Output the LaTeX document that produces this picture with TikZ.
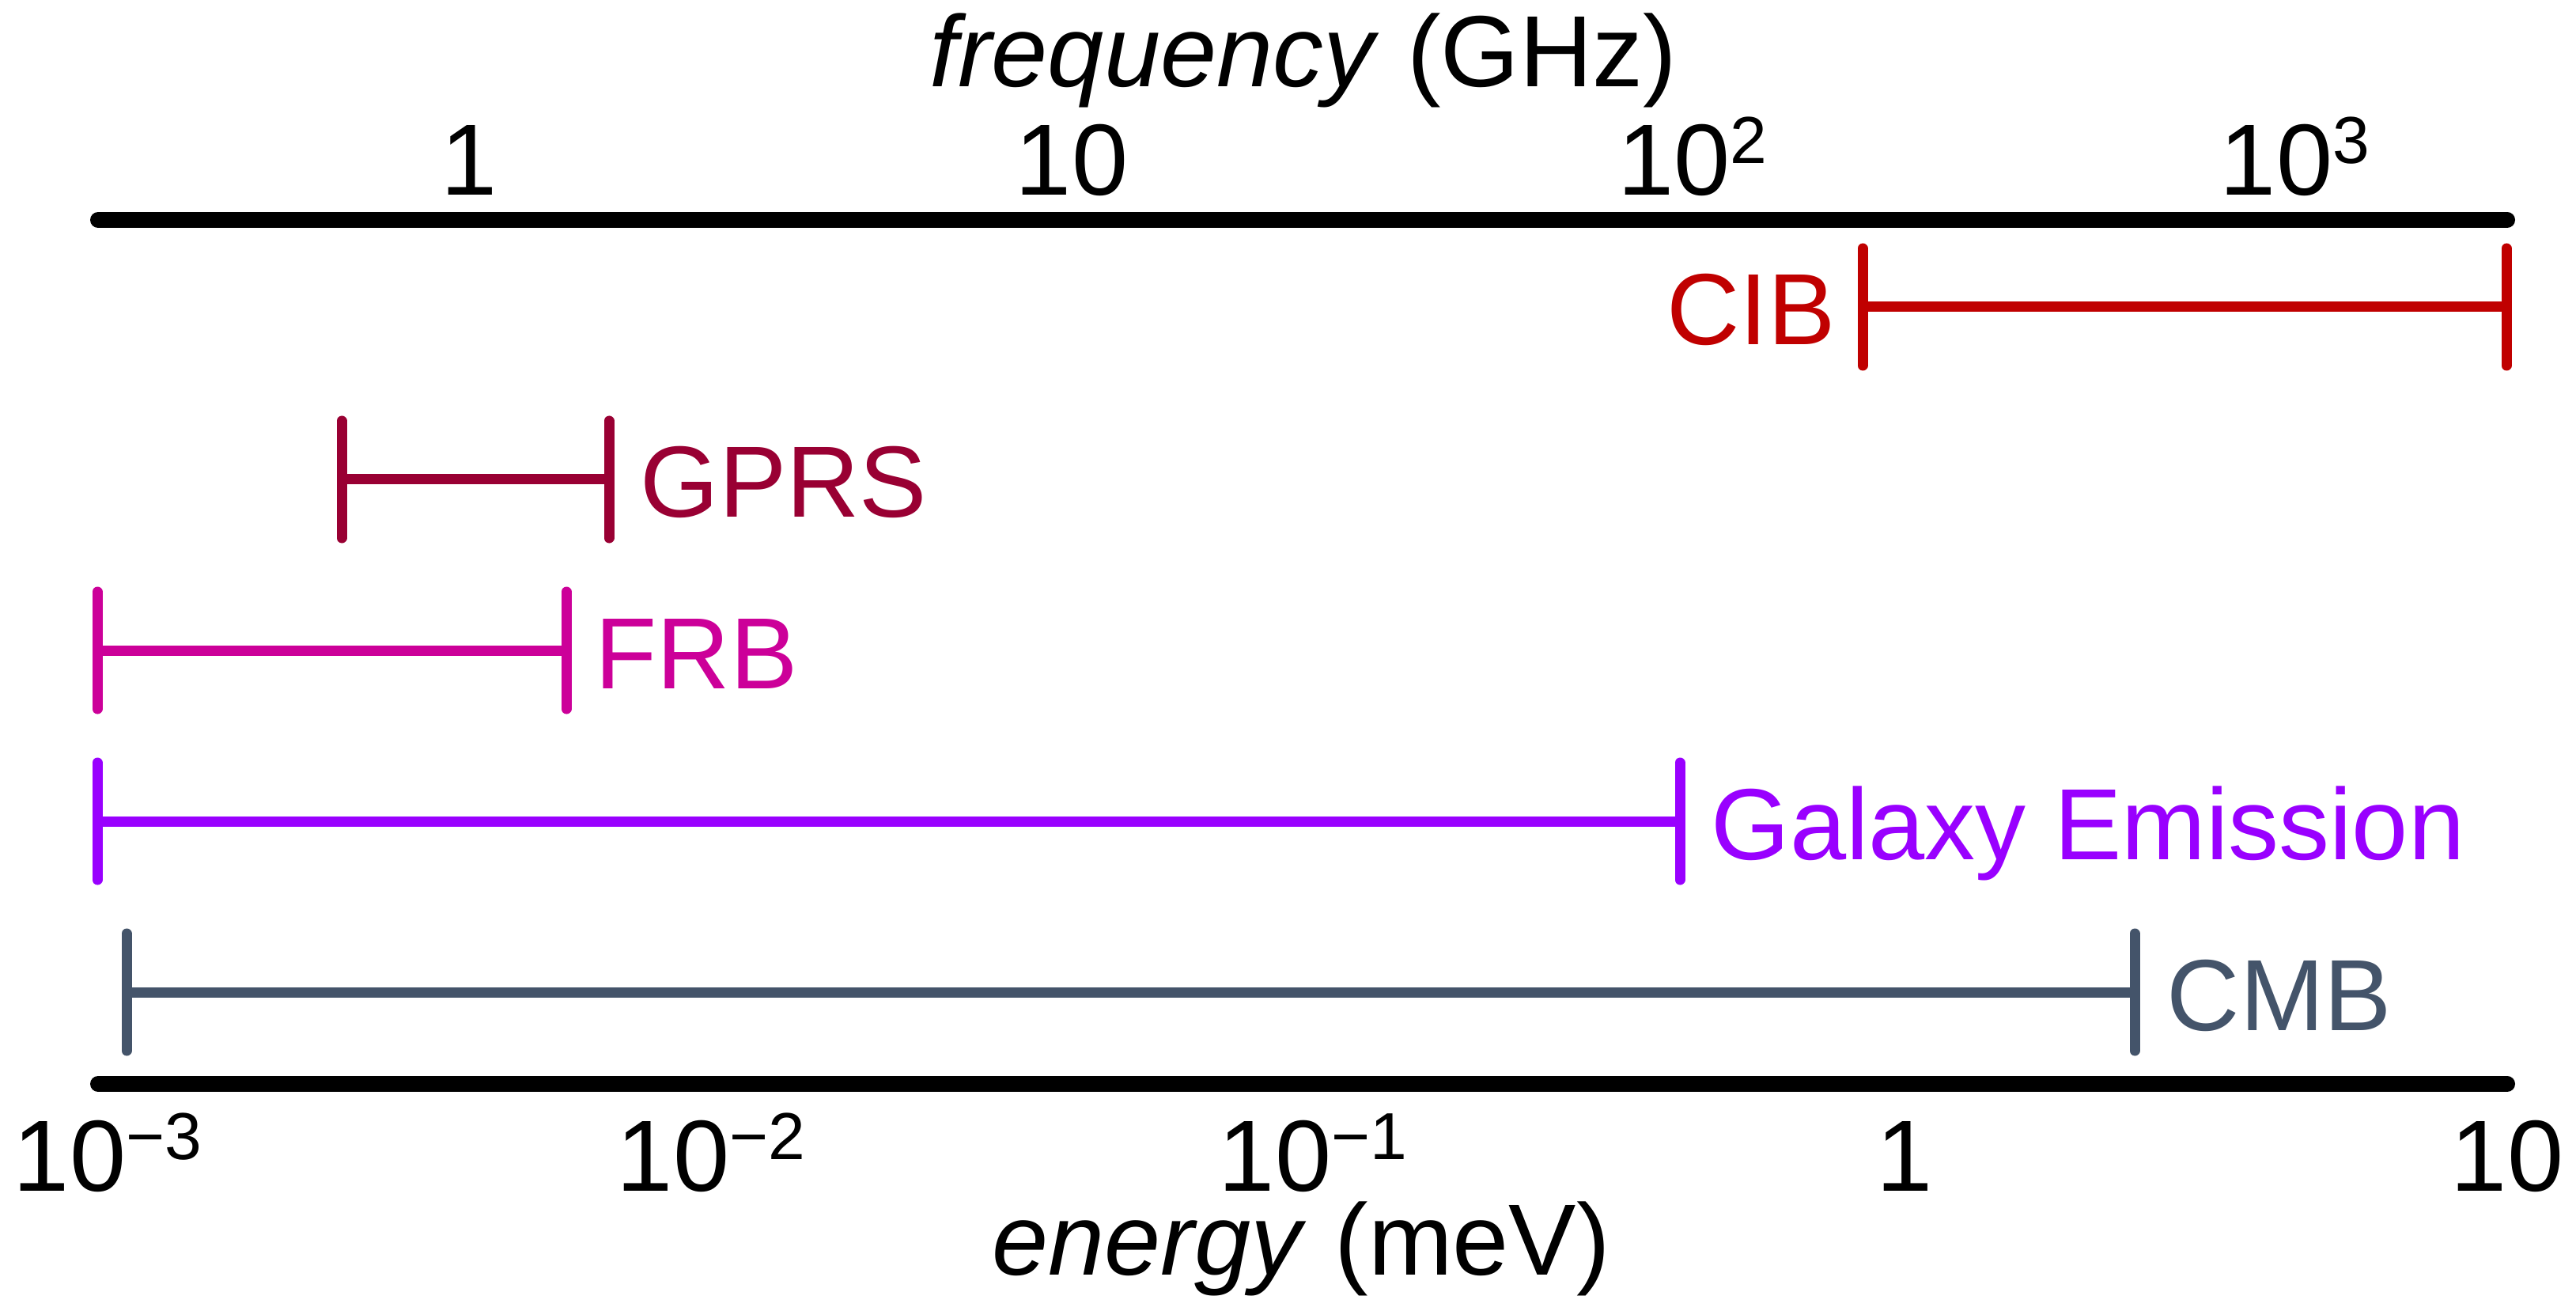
\documentclass[tikz,border=0pt]{standalone}
\usepackage{fontspec}
\setmainfont{Liberation Sans}
\definecolor{cibred}{HTML}{C00000}
\definecolor{gprsred}{HTML}{990033}
\definecolor{frbpink}{HTML}{CC0099}
\definecolor{galviolet}{HTML}{9900FF}
\definecolor{cmbgray}{HTML}{44546A}
\newcommand{\upidx}[1]{\raisebox{0.40cm}{\fontsize{23.9}{24}\selectfont #1}}
\tikzset{
  axisline/.style={line width=0.2cm, line cap=round},
  rangebar/.style={line width=0.13cm},
  rangetick/.style={line width=0.13cm, line cap=round},
  lbl/.style={font=\fontsize{36.4}{44}\selectfont, inner sep=0pt, text height=0.96cm, text depth=0pt},
  ticklbl/.style={font=\fontsize{36.4}{44}\selectfont, inner sep=0pt, anchor=base}
}
\begin{document}
\begin{tikzpicture}
    \useasboundingbox (0,0) rectangle (32.57,16.56);
    % axes
    \draw[axisline] (1.24,13.78) -- (31.70,13.78);
    \draw[axisline] (1.24,2.86) -- (31.70,2.86);
    \node[ticklbl] (title-nu) at (16.48,15.46) {\textit{frequency} (GHz)};
    \node[ticklbl] (title-e) at (16.45,0.45) {\textit{energy} (meV)};
    % frequency ticks
    \node[ticklbl] (nu0) at (5.935,14.09) {1};
    \node[ticklbl] (nu1) at (13.55,14.09) {10};
    \node[ticklbl] (nu2) at (21.165,14.09) {10\rlap{\upidx{2}}};
    \node[ticklbl] (nu3) at (28.78,14.09) {10\rlap{\upidx{3}}};
    % energy ticks
    \node[ticklbl] (e-3) at (1.36,1.51) {10\upidx{−3}};
    \node[ticklbl] (e-2) at (8.99,1.51) {10\upidx{−2}};
    \node[ticklbl] (e-1) at (16.60,1.51) {10\upidx{−1}};
    \node[ticklbl] (e0) at (24.085,1.51) {1};
    \node[ticklbl] (e1) at (31.70,1.51) {10};
    % ranges
    \foreach \xa/\xb/\yy/\col in {23.55/31.69/12.68/cibred, 4.32/7.70/10.50/gprsred,
        1.23/7.16/8.34/frbpink, 1.23/21.24/6.18/galviolet, 1.60/26.99/4.02/cmbgray} {
        \draw[rangebar, \col] (\xa,\yy) -- (\xb,\yy);
        \draw[rangetick, \col] (\xa,\yy-0.74) -- (\xa,\yy+0.74);
        \draw[rangetick, \col] (\xb,\yy-0.74) -- (\xb,\yy+0.74);
    }
    \node[lbl, cibred, anchor=east] (cib) at (23.21,12.68) {CIB};
    \node[lbl, gprsred, anchor=west] (gprs) at (8.09,10.50) {GPRS};
    \node[lbl, frbpink, anchor=west] (frb) at (7.52,8.34) {FRB};
    \node[lbl, galviolet, anchor=west] (gal) at (21.63,6.18) {Galaxy Emission};
    \node[lbl, cmbgray, anchor=west] (cmb) at (27.39,4.02) {CMB};
\end{tikzpicture}
\end{document}
